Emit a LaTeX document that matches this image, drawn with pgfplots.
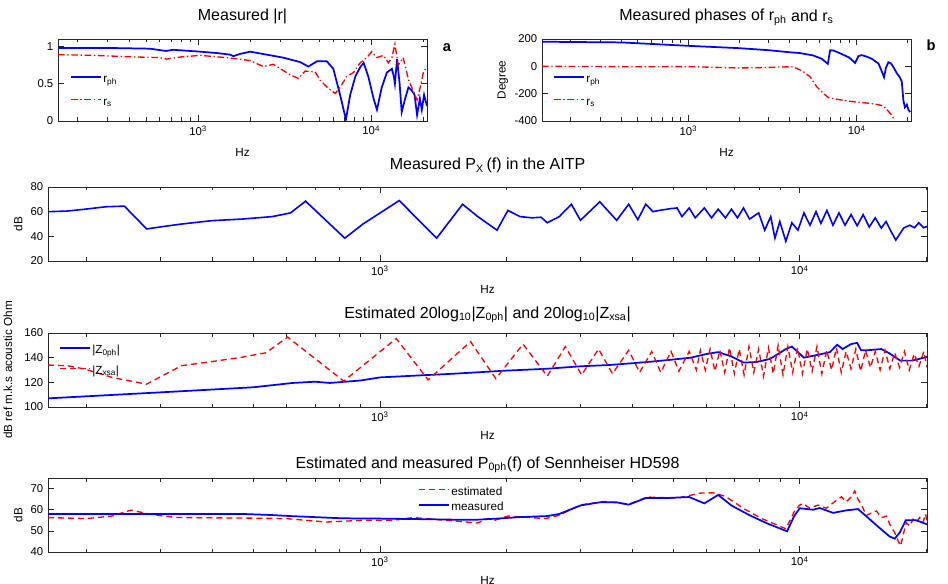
\documentclass[border=0pt]{standalone}
\usepackage{fontspec}
\setmainfont{Liberation Sans}
\usepackage{pgfplots}
\pgfplotsset{compat=1.18}
\newlength\px
\setlength\px{0.75pt}
\definecolor{mblue}{rgb}{0,0,1}
\definecolor{mred}{rgb}{1,0,0}
% legend samples: dashes drawn as separate solid pieces
\newcommand\legblue{\addlegendimage{legend image code/.code={\draw[color=mblue, solid, line width=1.3pt] (0pt,2.5pt) -- (22.5pt,2.5pt);}}}
\newcommand\legdash{\addlegendimage{legend image code/.code={\draw[color=mred, solid, line width=1pt]
  (0pt,2.5pt) -- (4.5pt,2.5pt) (7.5pt,2.5pt) -- (12pt,2.5pt) (15pt,2.5pt) -- (19.5pt,2.5pt) (21.5pt,2.5pt) -- (22.5pt,2.5pt);}}}
\newcommand\legdotdash{\addlegendimage{legend image code/.code={\draw[color=mred, solid, line width=1pt]
  (0pt,2.5pt) -- (5pt,2.5pt) (7pt,2.5pt) -- (8pt,2.5pt) (10pt,2.5pt) -- (15pt,2.5pt) (17pt,2.5pt) -- (18pt,2.5pt) (20pt,2.5pt) -- (22.5pt,2.5pt);}}}
\pgfplotsset{
  every axis title shift=0pt,
  panel/.style={
    scale only axis, enlargelimits=false,
    axis line style={black!85, line width=0.6pt},
    tick style={black!85, line width=0.5pt},
    tick align=inside,
    major tick length=6\px, minor tick length=3.5\px,
    xtick={1000,10000},
    xticklabels={10\textsuperscript{3},10\textsuperscript{4}},
    minor xtick={200,300,400,500,600,700,800,900,2000,3000,4000,5000,6000,7000,8000,9000,20000},
    /pgf/number format/assume math mode=true,
    ticklabel style={font=\fontsize{8.5}{10}\selectfont},
    label style={font=\fontsize{8.8}{10}\selectfont},
    title style={font=\fontsize{12}{14}\selectfont, at={(axis description cs:0.5,1)}, anchor=base},
    xlabel={Hz},
    xlabel style={at={(axis description cs:0.5,0)}, anchor=center, yshift=-28\px},
    ylabel style={anchor=center},
    legend cell align=left,
    legend style={draw=none, fill=none, anchor=west, inner sep=0pt,
      font=\fontsize{8.8}{10}\selectfont, column sep=1pt,
      nodes={inner sep=0pt, text height=6.5pt, text depth=2.5pt}},
  },
  wide/.style={panel, width=879\px, height=74\px, xmin=162, xmax=20100},
  bluecurve/.style={color=mblue, solid, line width=1.3pt, forget plot},
  dashcurve/.style={color=mred, line width=1pt, dash pattern=on 4.5pt off 3pt, forget plot},
  dotdashcurve/.style={color=mred, line width=1pt, dash pattern=on 5pt off 2pt on 1pt off 2pt, forget plot},
}

\begin{document}
\begin{tikzpicture}
\useasboundingbox (0,0) rectangle (948\px,-584\px);

% (a) measured |r|
\begin{semilogxaxis}[panel, at={(58\px,-121\px)}, anchor=south west,
  width=369\px, height=82\px, xmin=155, xmax=21000,
  ymin=0, ymax=1.1, ytick={0,0.5,1},
  title={Measured |r|}, title style={yshift=18\px},
  xlabel style={yshift=-3\px},
  legend style={at={(axis description cs:0.0325,0.36)}, row sep=8pt}]
\legblue\addlegendentry{r\textsubscript{ph}}
\legdotdash\addlegendentry{r\textsubscript{s}}
\addplot[bluecurve] coordinates {
(155,0.98)(300,0.98)(528,0.97)(650,0.94)(720,0.955)(1030,0.93)(1300,0.91)
(1530,0.89)(1600,0.87)(1750,0.90)(2000,0.93)(2490,0.89)(3100,0.85)(3890,0.79)
(4330,0.73)(4850,0.80)(5540,0.80)(6040,0.70)(6610,0.35)(7140,0.02)(7560,0.35)
(8100,0.60)(8630,0.72)(9040,0.78)(9610,0.60)(10320,0.30)(10790,0.15)(11500,0.45)
(12310,0.65)(13160,0.70)(13500,0.60)(13700,0.50)(14100,0.83)(14590,0.50)
(15000,0.12)(15700,0.30)(16400,0.45)(17000,0.42)(17800,0.35)(18400,0.08)
(19100,0.30)(19600,0.15)(20200,0.35)(21000,0.20)};
\addplot[dotdashcurve] coordinates {
(155,0.89)(250,0.88)(421,0.86)(600,0.85)(659,0.83)(800,0.86)(1030,0.88)
(1300,0.86)(1600,0.84)(2000,0.81)(2380,0.73)(2720,0.76)(3400,0.62)(3800,0.57)
(4150,0.67)(4740,0.66)(5060,0.55)(5630,0.44)(6200,0.37)(6610,0.45)(7230,0.60)
(7900,0.65)(8630,0.78)(9440,0.85)(10070,0.93)(10780,0.85)(11740,0.88)
(12560,0.78)(13160,0.85)(13700,1.03)(14330,0.75)(15300,0.85)(16430,0.55)
(17540,0.40)(18400,0.28)(19420,0.50)(20000,0.65)(20800,0.72)};
\end{semilogxaxis}
\node[font=\bfseries\fontsize{11}{12}\selectfont] at (447\px,-48\px) {a};

% (b) measured phases
\begin{semilogxaxis}[panel, at={(542\px,-121\px)}, anchor=south west,
  width=369\px, height=82\px, xmin=135, xmax=21000,
  ymin=-400, ymax=200, ytick={-400,-200,0,200},
  title={Measured phases of r\textsubscript{ph} and r\textsubscript{s}},
  title style={yshift=18\px},
  ylabel={Degree}, ylabel style={at={(axis description cs:-0.106,0.5)}},
  xlabel style={yshift=-3\px},
  legend style={at={(axis description cs:0.0298,0.36)}, row sep=8pt}]
\legblue\addlegendentry{r\textsubscript{ph}}
\legdotdash\addlegendentry{r\textsubscript{s}}
\addplot[bluecurve] coordinates {
(135,180)(400,175)(1000,150)(2000,133)(3000,118)(4000,103)(4600,97)(5500,80)
(6200,55)(6730,18)(6950,118)(7300,115)(7800,100)(8300,85)(9000,65)(9780,25)
(10240,75)(10700,82)(11500,70)(12300,55)(13470,20)(14000,-30)(14530,-80)
(14900,-10)(15420,30)(16000,20)(16500,-5)(17290,-50)(18000,-80)(18500,-110)
(18930,-250)(19300,-300)(19830,-280)(20300,-320)(20770,-335)};
\addplot[dotdashcurve] coordinates {
(135,0)(500,-3)(1000,-2)(1500,-8)(2000,-12)(2500,-10)(3000,-8)(3500,-5)
(4200,-3)(4820,-39)(5280,-76)(5780,-149)(6340,-198)(6780,-229)(7600,-241)
(9530,-259)(12000,-271)(13700,-283)(14400,-290)(15200,-320)(16100,-356)
(16500,-380)};
\end{semilogxaxis}
\node[font=\bfseries\fontsize{11}{12}\selectfont] at (931\px,-45\px) {b};

% (c) measured Px
\begin{semilogxaxis}[wide, at={(48\px,-261\px)}, anchor=south west,
  ymin=20, ymax=80, ytick={20,40,60,80},
  title={Measured P\textsubscript{X}\,(f) in the AITP}, title style={yshift=17\px},
  ylabel={dB}, ylabel style={at={(axis description cs:-0.034,0.5)}}]
\addplot[bluecurve, line width=1.2pt] coordinates {
(162.7,60)(180,60.5)(198.6,62)(222.9,64)(246.2,64.5)(278.3,46)(305.4,48)
(337.4,50)(398.1,52.7)(469.7,54)(554.4,56)(612.6,59)(665.3,68.5)(825,38.5)
(911.6,50)(1112,69)(1365,38.5)(1574,66)(1711,56)(1901,45)(2018,61)(2157,56)
(2305,55)(2420,55.5)(2504,51)(2675,56)(2858,66)(3004,53)(3340,68)(3664,53)
(3915,66)(4115,53.5)(4297,66)(4472,60)(4622,61)(4937,62.5)(5104,63)(5241,56)
(5454,63)(5637,55)(5926,63)(6166,55)(6394,62)(6653,55)(6877,62)(7108,55)
(7346,63)(7593,54)(7984,59)(8252,45)(8529,56)(8730,38.5)(8965,52)(9266,36)
(9578,51)(9901,45)(10235,59)(10580,49)(10935,60)(11230,50.5)(11608,61)
(11998,49)(12402,59)(12820,49)(13253,57.6)(13700,48.6)(14160,57.6)(14640,47.5)
(15130,55)(15640,46.7)(16060,52)(16500,44)(16940,37)(17680,46.7)(18280,49)
(18770,47)(19210,51)(19720,47)(20100,48)};
\end{semilogxaxis}

% (d) estimated impedances
\begin{semilogxaxis}[wide, at={(48\px,-407\px)}, anchor=south west,
  ymin=100, ymax=160, ytick={100,120,140,160},
  title={Estimated 20log\textsubscript{10}|Z\textsubscript{0ph}| and 20log\textsubscript{10}|Z\textsubscript{xsa}|},
  title style={yshift=15\px},
  ylabel={dB ref m.k.s acoustic Ohm}, ylabel style={at={(axis description cs:-0.0455,0.5)}},
  legend style={at={(axis description cs:0.0125,0.615)}, row sep=6.75pt}]
\legblue\addlegendentry{|Z\textsubscript{0ph}|}
\legdash\addlegendentry{|Z\textsubscript{xsa}|}
\addplot[bluecurve] coordinates {
(162,107)(305,112)(500,116)(620,119.5)(700,120.5)(760,119.5)(900,121.5)
(1000,124)(1500,127)(2000,129.5)(2500,131)(3000,133)(3500,134)(4000,135.5)
(4500,137)(5000,138.5)(5500,140)(6000,143)(6390,144.5)(6877,141)(7346,136)
(7900,136.5)(8500,139)(9266,147)(9578,149)(10235,140)(10935,142)(11800,144.5)
(12280,150.5)(12650,147)(13250,151)(13700,152)(14000,146)(14500,146)
(15640,147)(16270,144)(17370,137.6)(18500,137.6)(19800,140)(20100,141)};
\addplot[dashcurve] coordinates {
(162,134)(180,133.5)(198,130.8)(230,124)(278,118.5)(337,133.5)(398,136.8)
(470,140.4)(536,144)(603,156.7)(820,121)(1094,155.5)(1303,122)(1644,153)
(1889,123)(2193,151)(2504,125)(2765,149)(3024,126)(3318,147)(3581,127)
(3915,146)(4156,128)(4442,145)(4668,128)(4937,145)(5155,129)(5454,145)
(5675,130)(5800,146)(5957,130)(6117,147)(6283,129)(6452,146)(6626,128)
(6805,148)(6989,127)(7178,147)(7372,126)(7571,149)(7775,128)(7985,147)
(8201,125)(8422,148)(8649,127)(8883,150)(9123,126)(9369,149)(9622,128)
(9882,148)(10149,127)(10423,147)(10704,129)(10993,149)(11290,127)(11595,146)
(11908,130)(12229,148)(12559,128)(12899,145)(13247,131)(13604,147)(13972,129)
(14349,146)(14736,132)(15134,145)(15543,130)(15963,146)(16394,131)(16836,144)
(17291,132)(17758,145)(18237,130)(18730,143)(19235,133)(19755,145)(20100,132)};
\end{semilogxaxis}

% (e) estimated and measured P0ph
\begin{semilogxaxis}[wide, at={(48\px,-552\px)}, anchor=south west,
  ymin=40, ymax=75, ytick={40,50,60,70},
  title={Estimated and measured P\textsubscript{0ph}(f) of Sennheiser HD598},
  title style={yshift=10\px},
  ylabel={dB}, ylabel style={at={(axis description cs:-0.034,0.5)}},
  legend style={at={(axis description cs:0.421,0.696)}, row sep=2.25pt}]
\legdash\addlegendentry{estimated}
\legblue\addlegendentry{measured}
\addplot[dashcurve] coordinates {
(162,56.3)(200,55.8)(230,57)(255,59.8)(290,57.5)(330,56.3)(500,56)(600,55.8)
(665,55)(747,54.2)(912,55)(1076,55)(1200,56.3)(1400,55.2)(1711,53.7)(1800,55.8)
(1880,55)(2018,57)(2480,55.8)(2675,57.4)(3004,62.3)(3430,63.9)(3915,62.6)
(4330,66)(5104,65.5)(5820,67.9)(6230,68)(6653,66.3)(7346,60.6)(8120,55.8)
(9266,51)(9700,59)(10000,62.2)(10184,63)(10563,60.7)(11058,62.2)(11574,60.7)
(12115,63.8)(12567,66.1)(12915,63.8)(13274,66.1)(13520,68.9)(13770,64.9)
(14025,62.5)(14410,57.2)(14814,58.5)(15229,59.4)(15658,56.3)(16094,57)
(16388,53.1)(16838,49.2)(17152,45.2)(17402,42.9)(17690,49.2)(17950,53.9)
(18280,52.3)(18620,55.5)(18960,54)(19310,56.3)(19670,54)(19950,58)(20100,54)};
\addplot[bluecurve] coordinates {
(162,58)(300,58)(470,58)(550,57.5)(612,57)(700,56.5)(800,56)(912,55.8)
(1000,55.8)(1300,55.5)(1500,55.3)(1711,55.3)(1900,55.8)(2157,56.5)(2504,57)
(2675,58)(3004,62)(3340,63.5)(3664,63.5)(3915,62.4)(4297,65.5)(4777,65.5)
(5454,66)(5926,63)(6394,67)(6877,62)(7593,57.4)(8389,53.4)(9329,49.8)
(9700,57)(10000,60.7)(10760,60)(11160,60.8)(12010,58.5)(12910,59.7)
(13770,60.3)(14410,56.9)(15510,51.3)(16380,47.3)(16840,46.3)(17310,49.2)
(17890,55)(18960,55)(20100,53.1)};
\end{semilogxaxis}
\end{tikzpicture}
\end{document}
